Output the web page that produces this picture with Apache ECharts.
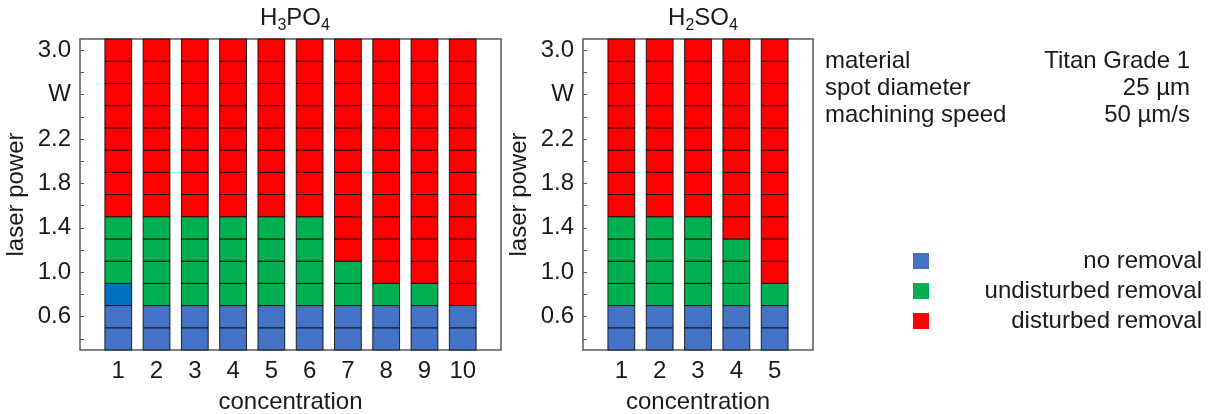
<!DOCTYPE html>
<html>
<head>
<meta charset="utf-8">
<script src="https://cdn.jsdelivr.net/npm/echarts@6/dist/echarts.min.js"></script>
<style>
  html, body { margin: 0; padding: 0; background: #fff; }
  #chart { width: 1209px; height: 414px; }
</style>
</head>
<body>
<div id="chart"></div>
<script>
// laser power range covered by the cells (W), each cell is 0.2 W tall
const powerMin = 0.3
const powerMax = 3.1
const cellStep = 0.2

// H3PO4 panel
const h3po4Conc = [1, 2, 3, 4, 5, 6, 7, 8, 9, 10]
const h3po4NoRemovalTop = [0.7, 0.7, 0.7, 0.7, 0.7, 0.7, 0.7, 0.7, 0.7, 0.7]
const h3po4TransitionTop = [0.9, 0.7, 0.7, 0.7, 0.7, 0.7, 0.7, 0.7, 0.7, 0.7]
const h3po4UndisturbedTop = [1.5, 1.5, 1.5, 1.5, 1.5, 1.5, 1.1, 0.9, 0.9, 0.7]

// H2SO4 panel
const h2so4Conc = [1, 2, 3, 4, 5]
const h2so4NoRemovalTop = [0.7, 0.7, 0.7, 0.7, 0.7]
const h2so4TransitionTop = [0.7, 0.7, 0.7, 0.7, 0.7]
const h2so4UndisturbedTop = [1.5, 1.5, 1.5, 1.3, 0.9]

// axis ticks
const yTickValues = [0.4, 0.6, 0.8, 1.0, 1.2, 1.4, 1.6, 1.8, 2.0, 2.2, 2.4, 2.6, 2.8, 3.0]
const yLabelValues = [0.6, 1.0, 1.4, 1.8, 2.2, 2.6, 3.0]
const yLabelTexts = ['0.6', '1.0', '1.4', '1.8', '2.2', 'W', '3.0']

const stateNames = ['no removal', 'transition', 'undisturbed removal', 'disturbed removal']
const stateColors = ['#4472C4', '#0070C0', '#00B050', '#FF0000']

const infoLabels = ['material', 'spot diameter', 'machining speed']
const infoValues = ['Titan Grade 1', '25 µm', '50 µm/s']

const FONT = "'Liberation Sans', Arial, sans-serif"
const TEXT = '#1a1a1a'
const AXIS = '#5a5a5a'

// split every bar into 0.2 W cells and sort them by state
function buildCells(conc, noTop, transTop, undTop) {
  const cells = stateNames.map(() => [])
  const n = Math.round((powerMax - powerMin) / cellStep)
  conc.forEach((c, i) => {
    for (let k = 0; k < n; k++) {
      const y0 = +(powerMin + k * cellStep).toFixed(1)
      let s = 3
      if (y0 < noTop[i]) s = 0
      else if (y0 < transTop[i]) s = 1
      else if (y0 < undTop[i]) s = 2
      cells[s].push([c, y0])
    }
  })
  return cells
}

const panels = [
  { cells: buildCells(h3po4Conc, h3po4NoRemovalTop, h3po4TransitionTop, h3po4UndisturbedTop) },
  { cells: buildCells(h2so4Conc, h2so4NoRemovalTop, h2so4TransitionTop, h2so4UndisturbedTop) },
]

function renderCell(params, api) {
  const x = api.value(0)
  const y0 = api.value(1)
  const p0 = api.coord([x - 0.35, y0 + cellStep])
  const p1 = api.coord([x + 0.35, y0])
  return {
    type: 'rect',
    shape: { x: p0[0], y: p0[1], width: p1[0] - p0[0], height: p1[1] - p0[1] },
    style: { fill: api.visual('color'), stroke: 'rgba(0,0,0,0.8)', lineWidth: 1 },
  }
}

const yAxisBase = (gridIndex) => ({
  type: 'value',
  gridIndex,
  min: powerMin,
  max: powerMax,
  name: 'laser power',
  nameLocation: 'middle',
  nameRotate: 90,
  nameGap: 52,
  nameTextStyle: { fontSize: 24, fontFamily: FONT, color: TEXT },
  axisLine: { show: false },
  splitLine: { show: false },
  axisTick: { show: true, inside: true, length: 4, customValues: yTickValues, lineStyle: { color: AXIS, width: 1 } },
  axisLabel: {
    customValues: yLabelValues,
    margin: 9,
    fontSize: 24,
    fontFamily: FONT,
    color: TEXT,
    formatter: (v) => {
      const idx = yLabelValues.findIndex((t) => Math.abs(t - v) < 1e-6)
      return idx >= 0 ? yLabelTexts[idx] : ''
    },
  },
})

const xAxisBase = (gridIndex, conc) => ({
  type: 'value',
  gridIndex,
  min: 0,
  max: conc.length + 1,
  name: 'concentration',
  nameLocation: 'middle',
  nameGap: 40,
  nameTextStyle: { fontSize: 24, fontFamily: FONT, color: TEXT },
  axisLine: { show: false },
  splitLine: { show: false },
  axisTick: { show: false },
  axisLabel: { customValues: conc, margin: 9, fontSize: 24, fontFamily: FONT, color: TEXT },
})

const series = []
panels.forEach((p, gi) => {
  p.cells.forEach((data, s) => {
    series.push({
      type: 'custom',
      name: stateNames[s],
      xAxisIndex: gi,
      yAxisIndex: gi,
      itemStyle: { color: stateColors[s] },
      renderItem: renderCell,
      encode: { x: 0, y: 1 },
      data,
      silent: true,
    })
  })
})

// subscripts: push the small digits down with a top padding
const titleRich = {
  n: { fontSize: 24, fontFamily: FONT, fontWeight: 'normal', color: TEXT, lineHeight: 26, verticalAlign: 'top' },
  s: { fontSize: 16, fontFamily: FONT, fontWeight: 'normal', color: TEXT, lineHeight: 16, padding: [12, 0, 0, 0], verticalAlign: 'top' },
}

const infoGraphics = []
infoLabels.forEach((t, i) => {
  const y = 61 + i * 27
  infoGraphics.push({
    type: 'text', x: 825, y,
    style: { text: t, fontSize: 24, fontFamily: FONT, fill: TEXT, align: 'left', verticalAlign: 'middle' },
  })
  infoGraphics.push({
    type: 'text', x: 1190, y,
    style: { text: infoValues[i], fontSize: 24, fontFamily: FONT, fill: TEXT, align: 'right', verticalAlign: 'middle' },
  })
})

const chart = echarts.init(document.getElementById('chart'), null, { renderer: 'canvas' })
chart.setOption({
  animation: false,
  backgroundColor: '#fff',
  title: [
    { text: '{n|H}{s|3}{n|PO}{s|4}', left: 290, top: 1, textAlign: 'center', textStyle: { fontWeight: 'normal', rich: titleRich } },
    { text: '{n|H}{s|2}{n|SO}{s|4}', left: 698, top: 1, textAlign: 'center', textStyle: { fontWeight: 'normal', rich: titleRich } },
  ],
  legend: {
    data: ['no removal', 'undisturbed removal', 'disturbed removal'],
    orient: 'vertical',
    left: 908,
    top: 244,
    icon: 'rect',
    itemWidth: 16,
    itemHeight: 16,
    itemGap: 6,
    selectedMode: false,
    formatter: (name) => '{t|' + name + '}',
    textStyle: {
      rich: { t: { width: 268, align: 'right', fontSize: 24, fontFamily: FONT, color: TEXT, lineHeight: 20 } },
    },
  },
  grid: [
    { left: 80, top: 39, width: 421, height: 311, outerBoundsMode: 'none', show: true, borderColor: AXIS, borderWidth: 1.5, backgroundColor: 'transparent' },
    { left: 583, top: 39, width: 230, height: 311, outerBoundsMode: 'none', show: true, borderColor: AXIS, borderWidth: 1.5, backgroundColor: 'transparent' },
  ],
  xAxis: [xAxisBase(0, h3po4Conc), xAxisBase(1, h2so4Conc)],
  yAxis: [yAxisBase(0), yAxisBase(1)],
  graphic: infoGraphics,
  series,
})

window.addEventListener('resize', () => chart.resize())
</script>
</body>
</html>
